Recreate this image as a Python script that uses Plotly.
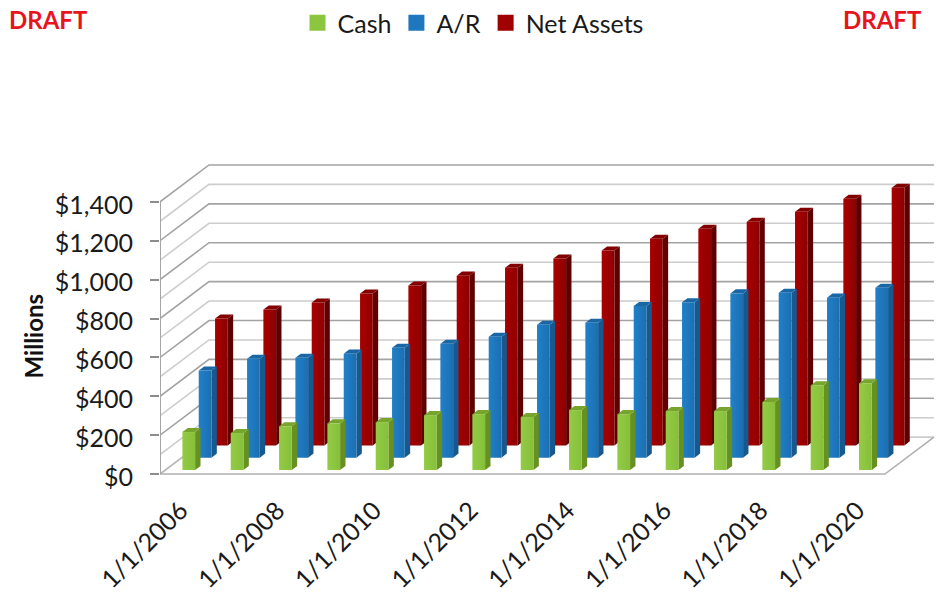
import plotly.graph_objects as go

categories = ["1/1/%d" % y for y in range(2006, 2021)]
cash = [195, 190, 225, 240, 246, 282, 287, 272, 308, 287, 303, 303, 349, 436, 446]
ar = [448, 509, 514, 535, 565, 586, 622, 684, 694, 780, 799, 845, 848, 823, 874]
net_assets = [653, 699, 735, 781, 822, 873, 914, 961, 1002, 1063, 1114, 1150, 1202, 1268, 1325]
series_names = ["Cash", "A/R", "Net Assets"]
y_ticks = [0, 200, 400, 600, 800, 1000, 1200, 1400]
y_labels = ["$0", "$200", "$400", "$600", "$800", "$1,000", "$1,200", "$1,400"]

W, H = 940, 592
L, T, B = 160, 150, 108
BELOW = 10            # pixels of plot area under the $0 line
LABEL_DROP = 3        # value labels sit a little under their tick marks
PX_X = 48.33          # pixels per category
PX_Y = 0.195          # pixels per dollar
DX = 16.33 / PX_X     # oblique shift per series row, in category units
DY = 12.33 / PX_Y     # oblique shift per series row, in dollars
N = len(categories)
ROWS = len(series_names)
BAR_START, BAR_W = 0.352, 0.263
DEPTH_START, DEPTH = 0.33, 0.33

palette = {
    "Cash": dict(legend="#8CC63F", grad=["#93CB45", "#86BF3A"], side="#66901F", top="#76A52E"),
    "A/R": dict(legend="#1F77BD", grad=["#2180C8", "#1B6FB2"], side="#17598F", top="#1A67A6"),
    "Net Assets": dict(legend="#A00000", grad=["#A80000", "#8E0000"], side="#5E0000", top="#820000"),
}
values = {"Cash": cash, "A/R": ar, "Net Assets": net_assets}


def pr(cat, depth, val):
    return cat + depth * DX, val + depth * DY


def poly(points, color, gradient=None):
    xs, ys = zip(*points)
    kw = dict(fillcolor=color)
    if gradient:
        kw = dict(fillgradient=dict(type="horizontal",
                                    colorscale=[[0, gradient[0]], [1, gradient[1]]]))
    return go.Scatter(x=list(xs) + [xs[0]], y=list(ys) + [ys[0]], mode="lines", fill="toself",
                      line=dict(width=0), hoverinfo="skip", showlegend=False, cliponaxis=False, **kw)


def line(points, color, width=1.6):
    xs, ys = zip(*points)
    return go.Scatter(x=xs, y=ys, mode="lines", line=dict(color=color, width=width),
                      hoverinfo="skip", showlegend=False, cliponaxis=False)


fig = go.Figure()

# walls: gridlines every $100, heavier on labelled majors
for v in range(100, 1401, 100):
    c = "#A3A3A3" if v % 200 == 0 else "#CDCDCD"
    fig.add_trace(line([pr(0, 0, v), pr(0, ROWS, v), pr(N, ROWS, v)], c))
# floor
fig.add_trace(line([pr(0, ROWS, 0), pr(N, ROWS, 0)], "#CDCDCD"))
fig.add_trace(line([pr(0, 0, 0), pr(0, ROWS, 0)], "#B5B5B5"))
fig.add_trace(line([pr(0, 0, 0), pr(N, 0, 0), pr(N, ROWS, 0)], "#B0B0B0"))
# value axis line
fig.add_trace(line([pr(0, 0, 0), pr(0, 0, y_ticks[-1])], "#A6A6A6", 2))

# bars, back row first
for r in reversed(range(ROWS)):
    name = series_names[r]
    pal = palette[name]
    for i, v in enumerate(values[name]):
        x0, x1 = i + BAR_START, i + BAR_START + BAR_W
        d0, d1 = r + DEPTH_START, r + DEPTH_START + DEPTH
        fig.add_trace(poly([pr(x1, d0, 0), pr(x1, d1, 0), pr(x1, d1, v), pr(x1, d0, v)], pal["side"]))
        fig.add_trace(poly([pr(x0, d0, v), pr(x1, d0, v), pr(x1, d1, v), pr(x0, d1, v)], pal["top"]))
        fig.add_trace(poly([pr(x0, d0, 0), pr(x1, d0, 0), pr(x1, d0, v), pr(x0, d0, v)], pal["legend"], pal["grad"]))

# legend entries
for name in series_names:
    fig.add_trace(go.Scatter(x=[None], y=[None], mode="markers", name=name,
                             marker=dict(symbol="square", size=16, color=palette[name]["legend"])))
# carrier for the label axis
fig.add_trace(go.Scatter(x=[None], y=[None], yaxis="y2", mode="lines", showlegend=False, hoverinfo="skip"))

font = "Lato, Carlito, Calibri, sans-serif"
pw, ph = W - L, H - T - B
y_lo = -BELOW / PX_Y
y_hi = y_lo + ph / PX_Y


def page_x(px):
    return (px - L) / pw


def page_y(py):
    return 1 - (py - T) / ph


fig.update_layout(
    width=W, height=H, margin=dict(l=L, r=0, t=T, b=B),
    paper_bgcolor="white", plot_bgcolor="white",
    font=dict(family=font, size=25, color="#1A1A1A"),
    showlegend=True,
    legend=dict(orientation="h", x=page_x(473), xanchor="center", y=page_y(-1), yanchor="top",
                font=dict(size=25), bgcolor="rgba(0,0,0,0)"),
    xaxis=dict(range=[0, pw / PX_X], tickmode="array", tickvals=[i + 0.43 for i in range(0, N, 2)],
               ticktext=categories[::2], tickangle=-45, showgrid=False, zeroline=False, showline=False,
               ticks="", ticklabelstandoff=6, tickfont=dict(size=25), automargin=False),
    yaxis=dict(range=[y_lo, y_hi], tickmode="array", tickvals=y_ticks, showticklabels=False,
               showgrid=False, zeroline=False, showline=False, ticks="outside", ticklen=9, tickwidth=1.5,
               tickcolor="#8C8C8C", automargin=False),
    yaxis2=dict(range=[y_lo + LABEL_DROP / PX_Y, y_hi + LABEL_DROP / PX_Y], overlaying="y", side="left",
                anchor="x", tickmode="array", tickvals=y_ticks, ticktext=y_labels, showgrid=False,
                zeroline=False, showline=False, ticks="", ticklabelstandoff=26, tickfont=dict(size=25),
                automargin=False),
    annotations=[
        dict(text="<b>DRAFT</b>", x=page_x(48), y=page_y(18), xref="paper", yref="paper", showarrow=False,
             xanchor="center", yanchor="middle", font=dict(size=24, color="#E8141C")),
        dict(text="<b>DRAFT</b>", x=page_x(882), y=page_y(18), xref="paper", yref="paper", showarrow=False,
             xanchor="center", yanchor="middle", font=dict(size=24, color="#E8141C")),
        dict(text="<b>Millions</b>", x=page_x(33), y=page_y(336), xref="paper", yref="paper", showarrow=False,
             xanchor="center", yanchor="middle", textangle=-90, font=dict(size=24, color="#111111")),
    ],
)

fig.write_html("out.html", config=dict(displayModeBar=False),
               post_script="document.body.style.margin='0';")
